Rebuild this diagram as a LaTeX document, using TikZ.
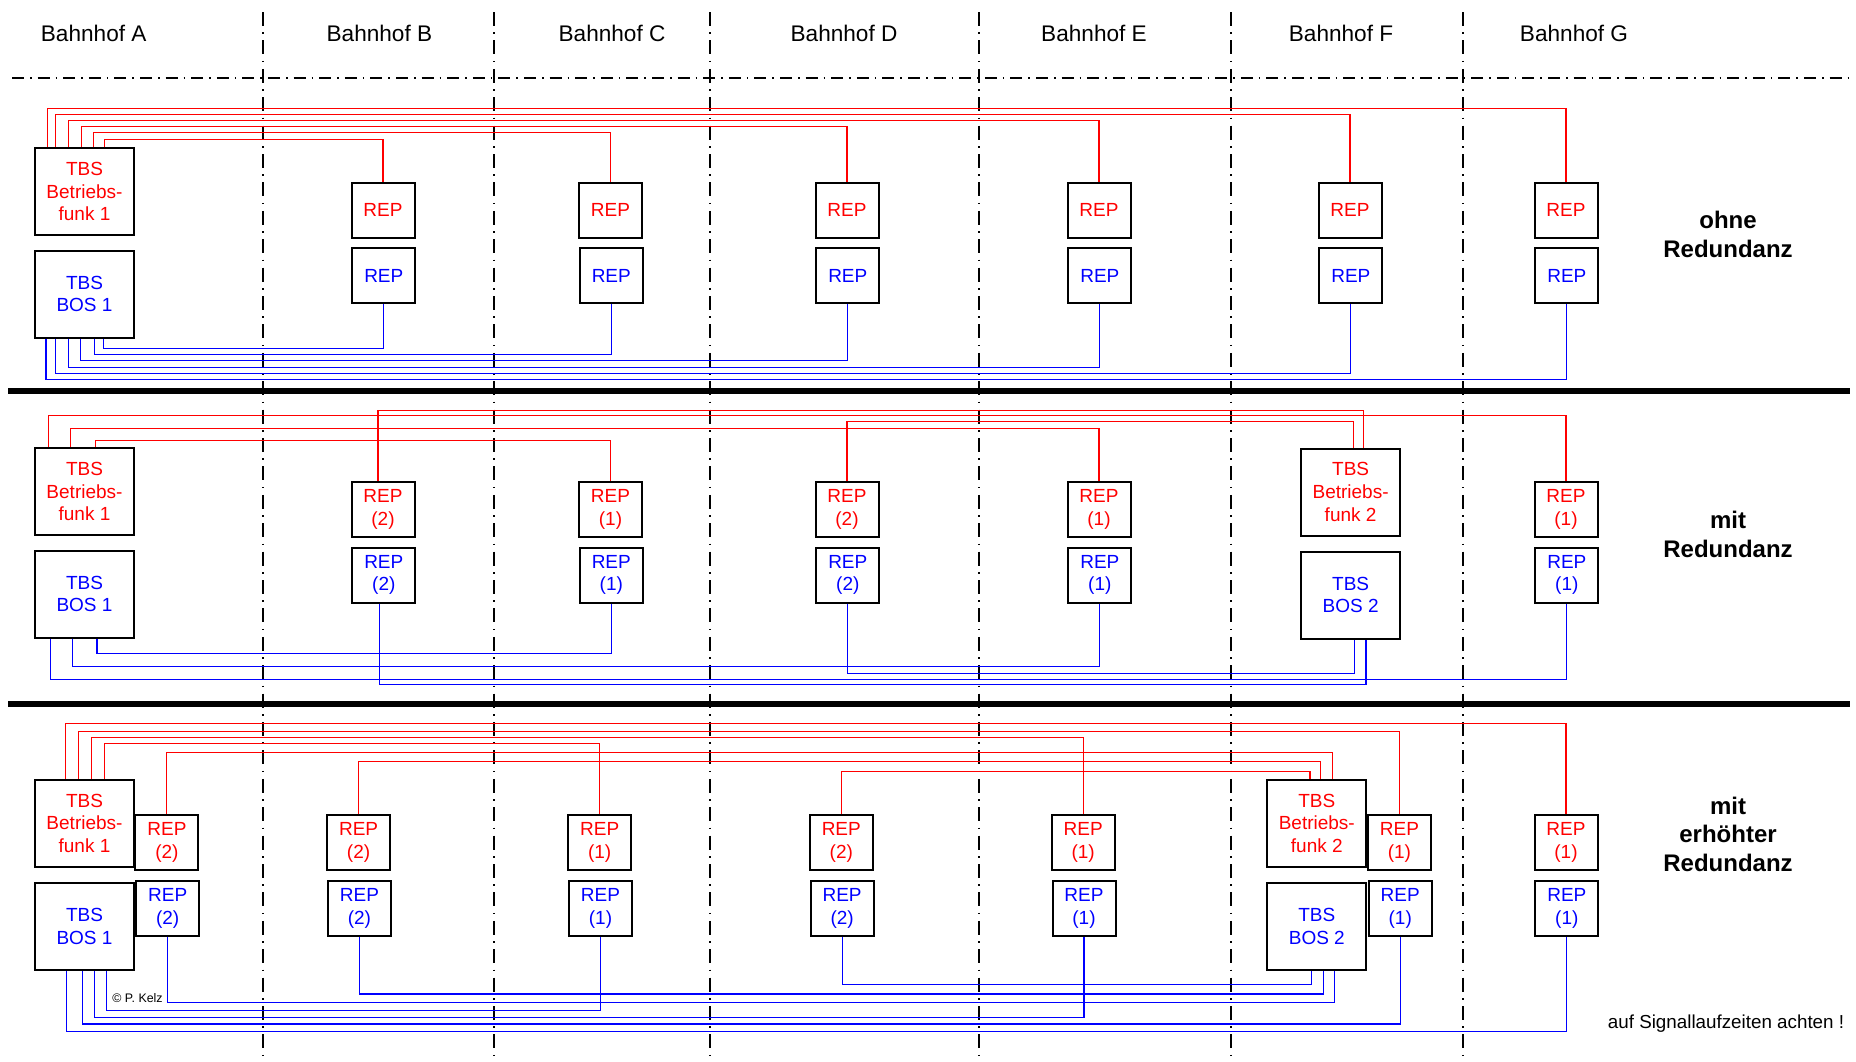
\documentclass[tikz,border=0pt]{standalone}
\usepackage{fontspec}
\setmainfont{Liberation Sans}
\usetikzlibrary{calc}
\definecolor{rd}{RGB}{255,0,0}
\definecolor{bl}{RGB}{0,0,255}
\begin{document}
\begin{tikzpicture}[x=0.5pt,y=-0.5pt,
 box/.style={draw=black,line width=1pt,inner sep=0pt,align=center,font=\fontsize{9.5}{11.4}\selectfont},
 rbox/.style={box,text=rd},
 bbox/.style={box,text=bl},
 rep/.style={minimum width=31.5pt,minimum height=27.5pt},
 tbs/.style={minimum width=49.5pt,minimum height=43.5pt},
 rl/.style={draw=rd,line width=0.55pt},
 bll/.style={draw=bl,line width=0.55pt},
 vline/.style={line width=1pt,dash pattern=on 7pt off 3.2pt on 0.8pt off 3.2pt},
 hline/.style={line width=0.6pt,dash pattern=on 6pt off 3pt on 0.8pt off 3pt},
 sep/.style={line width=2.6pt},
 hdr/.style={font=\fontsize{11.3}{13}\selectfont},
 lbl/.style={font=\fontsize{12}{14.3}\selectfont\bfseries,align=center}]
\useasboundingbox (0,0) rectangle (1856,1061);
\fill[white] (0,0) rectangle (1856,1061);

% station separators
\foreach \x in {263,494,710,979,1231,1463}
  \draw[vline] (\x,12) -- (\x,1061);
\draw[hline] (12,78) -- (1850,78);
\draw[sep] (8,391) -- (1850,391);
\draw[sep] (8,704) -- (1850,704);

% headers
\node[hdr] (hA) at (93.7,33) {Bahnhof A};
\node[hdr] (hB) at (379.4,33) {Bahnhof B};
\node[hdr] (hC) at (612,33) {Bahnhof C};
\node[hdr] (hD) at (844,33) {Bahnhof D};
\node[hdr] (hE) at (1094,33) {Bahnhof E};
\node[hdr] (hF) at (1341,33) {Bahnhof F};
\node[hdr] (hG) at (1574,33) {Bahnhof G};

% ===== section 1 : ohne Redundanz =====
\node[rbox,tbs] (s1bf) at (84.5,191.5) {TBS\\Betriebs-\\funk 1};
\node[bbox,tbs] (s1bos) at (84.5,294) {TBS\\BOS 1};
\foreach \n/\x in {B/383,C/610.5,D/847,E/1099,F/1350,G/1566}{
  \node[rbox,rep] (s1r\n) at (\x,210) {REP};
  \node[bbox,rep] (s1b\n) at (\x+0.8,275.5) {REP};
}
\foreach \dx/\h/\n in {13.3/38.8/G,21.2/32.8/F,34.8/26.2/E,47.7/20.2/D,59.7/14.2/C,70.1/7.5/B}
  \draw[rl] ($(s1bf.north west)+(\dx,0)$) -- ++(0,-\h) -| (s1r\n.north);
\foreach \dx/\h/\n in {12/41.3/G,21.6/35.3/F,34.4/28.7/E,46.9/22/D,60.1/16.3/C,69.2/10/B}
  \draw[bll] ($(s1bos.south west)+(\dx,0)$) -- ++(0,\h) -| (s1b\n.south);
\node[lbl] (l1) at (1728,234.3) {ohne\\Redundanz};

% ===== section 2 : mit Redundanz =====
\node[rbox,tbs] (s2bf1) at (84.5,491.5) {TBS\\Betriebs-\\funk 1};
\node[bbox,tbs] (s2bos1) at (84.5,594) {TBS\\BOS 1};
\node[rbox,tbs] (s2bf2) at (1350.6,492) {TBS\\Betriebs-\\funk 2};
\node[bbox,tbs] (s2bos2) at (1350.6,595) {TBS\\BOS 2};
\foreach \n/\x/\k in {B/383/2,C/610.5/1,D/847/2,E/1099/1,G/1566/1}{
  \node[rbox,rep] (s2r\n) at (\x,509.5) {REP\\(\k)};
  \node[bbox,rep] (s2b\n) at (\x+0.8,575) {REP\\(\k)};
}
\foreach \dx/\h/\n in {14.5/31.5/G,36.5/18.8/E,61.4/6.5/C}
  \draw[rl] ($(s2bf1.north west)+(\dx,0)$) -- ++(0,-\h) -| (s2r\n.north);
\draw[rl] ($(s2rB.north)+(-5,0)$) -- ++(0,-70.8) -| ($(s2bf2.north west)+(63.4,0)$);
\draw[rl] (s2rD.north) -- ++(0,-59.2) -| ($(s2bf2.north west)+(53,0)$);
\foreach \dx/\h/\n in {63/15.3/C,38.2/28.3/E,16.6/41.3/G}
  \draw[bll] ($(s2bos1.south west)+(\dx,0)$) -- ++(0,\h) -| (s2b\n.south);
\draw[bll] ($(s2bB.south)+(-4,0)$) -- ++(0,81.3) -| ($(s2bos2.south west)+(65.9,0)$);
\draw[bll] (s2bD.south) -- ++(0,69.7) -| ($(s2bos2.south west)+(54.6,0)$);
\node[lbl] (l2) at (1728,534.2) {mit\\Redundanz};

% ===== section 3 : mit erhoehter Redundanz =====
\node[rbox,tbs] (s3bf1) at (84.5,823.3) {TBS\\Betriebs-\\funk 1};
\node[bbox,tbs] (s3bos1) at (84.5,926.8) {TBS\\BOS 1};
\node[rbox,tbs] (s3bf2) at (1316.8,823.3) {TBS\\Betriebs-\\funk 2};
\node[bbox,tbs] (s3bos2) at (1316.8,926.8) {TBS\\BOS 2};
\foreach \n/\x/\k in {A/166.9/2,B/358.6/2,C/599.7/1,D/841.3/2,E/1083.2/1,F/1399.4/1,G/1566/1}{
  \node[rbox,rep] (s3r\n) at (\x,842.6) {REP\\(\k)};
  \node[bbox,rep] (s3b\n) at (\x+0.8,908.2) {REP\\(\k)};
}
\foreach \dx/\h/\n in {31.1/55/G,44.8/47.3/F,57.2/41.3/E,70.1/35/C}
  \draw[rl] ($(s3bf1.north west)+(\dx,0)$) -- ++(0,-\h) -| (s3r\n.north);
\draw[rl] (s3rA.north) -- ++(0,-61.8) -| ($(s3bf2.north west)+(65.8,0)$);
\draw[rl] (s3rB.north) -- ++(0,-52.8) -| ($(s3bf2.north west)+(54.5,0)$);
\draw[rl] (s3rD.north) -- ++(0,-42.4) -| ($(s3bf2.north west)+(43.7,0)$);
\foreach \dx/\h/\n in {32.8/60/G,48.1/52.7/F,60.1/46.4/E,72.6/39/C}
  \draw[bll] ($(s3bos1.south west)+(\dx,0)$) -- ++(0,\h) -| (s3b\n.south);
\draw[bll] (s3bA.south) -- ++(0,65.5) -| ($(s3bos2.south west)+(68.3,0)$);
\draw[bll] (s3bB.south) -- ++(0,57.3) -| ($(s3bos2.south west)+(57,0)$);
\draw[bll] (s3bD.south) -- ++(0,48) -| ($(s3bos2.south west)+(45.2,0)$);
\node[lbl] (l3) at (1728,834.2) {mit\\erhöhter\\Redundanz};

\node[font=\fontsize{9.4}{11}\selectfont] (note) at (1726,1024) {auf Signallaufzeiten achten !};
\node[font=\fontsize{6.2}{7}\selectfont,anchor=west,inner sep=0pt] (copy) at (112,997.7) {© P. Kelz};
\end{tikzpicture}
\end{document}
